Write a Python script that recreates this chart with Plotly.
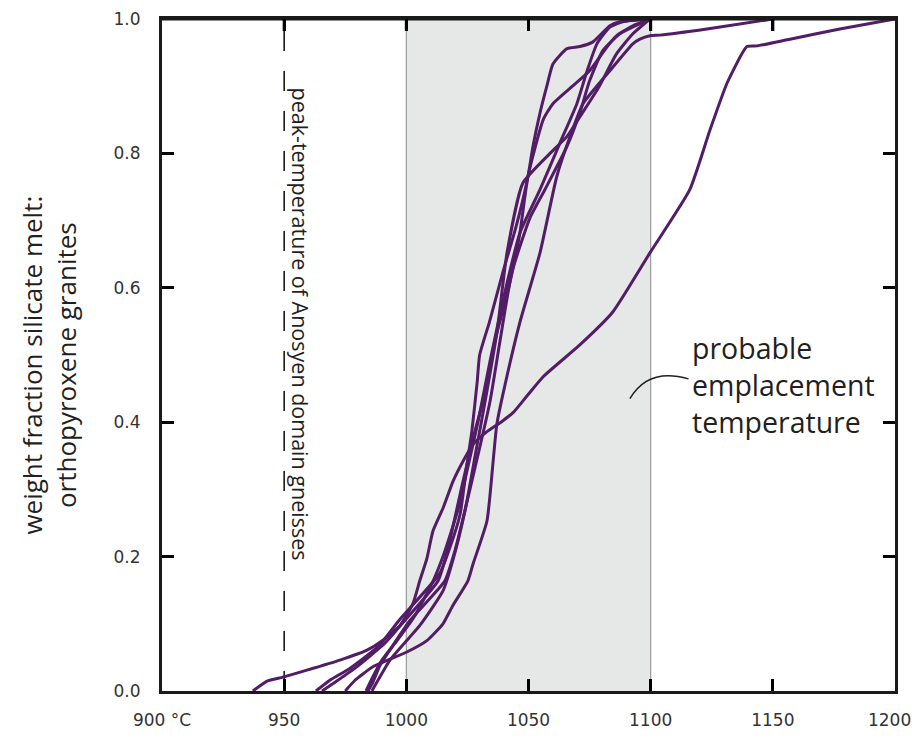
import plotly.graph_objects as go

# ---- data (temperature in °C, weight fraction melt) ----
curve_A_T = [937.2, 943.0, 949.5, 959.3, 972.8, 983.9, 990.4, 997.4, 1002.7, 1005.5, 1008.4, 1010.9, 1015.0, 1019.1, 1023.2, 1027.3, 1033.0, 1038.7, 1043.9, 1049.6, 1056.1, 1071.0, 1084.5, 1099.7, 1116.0, 1124.2, 1131.2, 1139.4, 1143.5, 1157.0, 1177.4, 1199.9]
curve_A_f = [0.0, 0.0148, 0.0207, 0.031, 0.0459, 0.0607, 0.0754, 0.0976, 0.130, 0.164, 0.197, 0.238, 0.272, 0.312, 0.342, 0.367, 0.386, 0.400, 0.415, 0.440, 0.468, 0.515, 0.564, 0.652, 0.746, 0.834, 0.904, 0.959, 0.960, 0.970, 0.985, 1.0]

curve_B_T = [975.0, 979.0, 986.3, 1000.2, 1008.4, 1015.0, 1019.0, 1025.2, 1027.3, 1033.0, 1035.4, 1037.0, 1039.5, 1046.5, 1054.7, 1061.6, 1067.0, 1072.3, 1083.3, 1092.7, 1095.6, 1099.7, 1103.8, 1123.0, 1150.0]
curve_B_f = [0.0, 0.016, 0.036, 0.058, 0.075, 0.100, 0.127, 0.164, 0.189, 0.253, 0.337, 0.396, 0.441, 0.549, 0.652, 0.766, 0.825, 0.874, 0.923, 0.963, 0.970, 0.975, 0.976, 0.985, 1.0]

curve_C_T = [963.0, 968.7, 977.0, 989.0, 997.0, 1013.7, 1017.8, 1022.0, 1024.8, 1026.8, 1029.0, 1030.0, 1034.0, 1039.5, 1045.0, 1049.8, 1051.8, 1054.7, 1057.5, 1060.0, 1065.7, 1071.0, 1076.4, 1083.3, 1087.4, 1099.7]
curve_C_f = [0.0, 0.016, 0.034, 0.068, 0.105, 0.175, 0.213, 0.263, 0.337, 0.386, 0.46, 0.50, 0.549, 0.623, 0.692, 0.766, 0.81, 0.86, 0.90, 0.933, 0.956, 0.959, 0.966, 0.99, 0.996, 1.0]

curve_D_T = [965.5, 970.8, 979.0, 991.2, 999.4, 1013.0, 1017.0, 1023.2, 1028.0, 1031.3, 1036.2, 1042.4, 1046.5, 1049.8, 1056.0, 1060.0, 1068.0, 1075.0, 1082.0, 1086.0, 1092.7, 1099.7]
curve_D_f = [0.0, 0.013, 0.034, 0.071, 0.105, 0.164, 0.212, 0.312, 0.386, 0.43, 0.52, 0.608, 0.682, 0.766, 0.85, 0.874, 0.90, 0.923, 0.958, 0.975, 0.99, 1.0]

curve_E_T = [983.5, 986.0, 990.0, 996.2, 1003.5, 1011.0, 1015.0, 1021.0, 1024.8, 1029.3, 1034.2, 1040.3, 1046.5, 1054.7, 1062.8, 1069.8, 1074.0, 1078.0, 1083.3, 1088.6, 1099.7]
curve_E_f = [0.0, 0.019, 0.046, 0.075, 0.112, 0.164, 0.20, 0.268, 0.327, 0.40, 0.49, 0.593, 0.682, 0.746, 0.815, 0.874, 0.923, 0.963, 0.988, 0.996, 1.0]

curve_F_T = [984.3, 986.3, 989.2, 994.5, 1001.5, 1015.8, 1019.9, 1026.8, 1034.2, 1038.3, 1043.2, 1050.6, 1056.7, 1065.7, 1071.0, 1075.0, 1080.4, 1087.4, 1095.6, 1099.7]
curve_F_f = [0.0, 0.013, 0.038, 0.068, 0.105, 0.164, 0.209, 0.312, 0.43, 0.52, 0.623, 0.704, 0.746, 0.81, 0.86, 0.908, 0.953, 0.978, 0.993, 1.0]

curve_G_T = [985.9, 988.4, 993.3, 1005.6, 1015.0, 1019.0, 1024.0, 1028.5, 1032.2, 1037.1, 1041.2, 1047.7, 1058.8, 1065.7, 1072.0, 1079.0, 1086.0, 1092.7, 1099.7]
curve_G_f = [0.0, 0.016, 0.046, 0.098, 0.149, 0.194, 0.268, 0.357, 0.43, 0.534, 0.652, 0.756, 0.80, 0.825, 0.86, 0.90, 0.948, 0.978, 1.0]

curves = [
    (curve_A_T, curve_A_f), (curve_B_T, curve_B_f), (curve_C_T, curve_C_f),
    (curve_D_T, curve_D_f), (curve_E_T, curve_E_f), (curve_F_T, curve_F_f),
    (curve_G_T, curve_G_f),
]

x_tick_vals = [900, 950, 1000, 1050, 1100, 1150, 1200]
x_tick_text = ["900 °C", "950", "1000", "1050", "1100", "1150", "1200\u00a0\u00a0"]
y_tick_vals = [0.0, 0.2, 0.4, 0.6, 0.8, 1.0]
y_tick_text = ["0.0", "0.2", "0.4", "0.6", "0.8", "1.0"]

emplacement_range = [1000, 1100]
peak_temperature = 950

LINE_COLOR = "#521C66"
TEXT_FONT = "Open Sans"

fig = go.Figure()

# shaded emplacement band
fig.add_shape(type="rect", xref="x", yref="y",
              x0=emplacement_range[0], x1=emplacement_range[1], y0=0, y1=1,
              fillcolor="#E6E8E8", line=dict(width=0), layer="below")
for xv in emplacement_range:
    fig.add_shape(type="line", xref="x", yref="y", x0=xv, x1=xv, y0=0, y1=1,
                  line=dict(color="#9A9A9A", width=1.2), layer="below")

# dashed peak-temperature line
fig.add_shape(type="line", xref="x", yref="y", x0=peak_temperature, x1=peak_temperature,
              y0=0, y1=1, line=dict(color="#1a1a1a", width=1.6, dash="20px,20px"), layer="below")

for T, f in curves:
    fig.add_trace(go.Scatter(x=T, y=f, mode="lines",
                             line=dict(color=LINE_COLOR, width=3, shape="spline", smoothing=0.5),
                             showlegend=False, hoverinfo="skip"))

# top frame line and inward top ticks
fig.add_shape(type="line", xref="paper", yref="paper", x0=-0.002, x1=1.002, y0=1, y1=1,
              line=dict(color="#1a1a1a", width=3))
for xv in x_tick_vals[1:-1]:
    fig.add_shape(type="line", xref="x", yref="paper", x0=xv, x1=xv,
                  ysizemode="pixel", yanchor=1, y0=0, y1=-12,
                  line=dict(color="#000000", width=3))

# connector arc for annotation
fig.add_shape(type="path", xref="x", yref="y",
              path="M 1091.5,0.435 Q 1099.0,0.482 1115.5,0.4645",
              line=dict(color="#231F20", width=1.5))

fig.add_annotation(x=1116.0, y=0.456, xref="x", yref="y", xanchor="left", yanchor="middle",
                   align="left", showarrow=False,
                   text="probable<br>emplacement<br>temperature",
                   font=dict(family=TEXT_FONT, size=28.5, color="#231F20"))

fig.add_annotation(x=956.7, y=0.546, xref="x", yref="y", xanchor="center", yanchor="middle",
                   textangle=90, showarrow=False,
                   text="peak-temperature of Anosyen domain gneisses",
                   font=dict(family=TEXT_FONT, size=21.5, color="#231F20"))

fig.add_annotation(x=-0.1535, y=0.485, xref="paper", yref="paper", xanchor="center", yanchor="middle",
                   textangle=-90, showarrow=False,
                   text="weight fraction silicate melt:<br>orthopyroxene granites",
                   font=dict(family=TEXT_FONT, size=26, color="#231F20"))

axis_common = dict(showgrid=False, zeroline=False, showline=True, linecolor="#1a1a1a",
                   linewidth=3, mirror="ticks", ticks="inside", ticklen=12, tickwidth=3,
                   tickcolor="#000000", automargin=False, ticklabeloverflow="allow",
                   tickfont=dict(family="DejaVu Sans", size=17, color="#333333"))

fig.update_xaxes(range=[900, 1200], tickvals=x_tick_vals, ticktext=x_tick_text,
                 ticklabelstandoff=12, **axis_common)
fig.update_yaxes(range=[0, 1], tickvals=y_tick_vals, ticktext=y_tick_text,
                 ticklabelstandoff=15, **axis_common)

fig.update_layout(width=904, height=724, plot_bgcolor="white", paper_bgcolor="white",
                  margin=dict(l=154, r=17, t=11, b=41), showlegend=False)

fig.write_html("out.html")
